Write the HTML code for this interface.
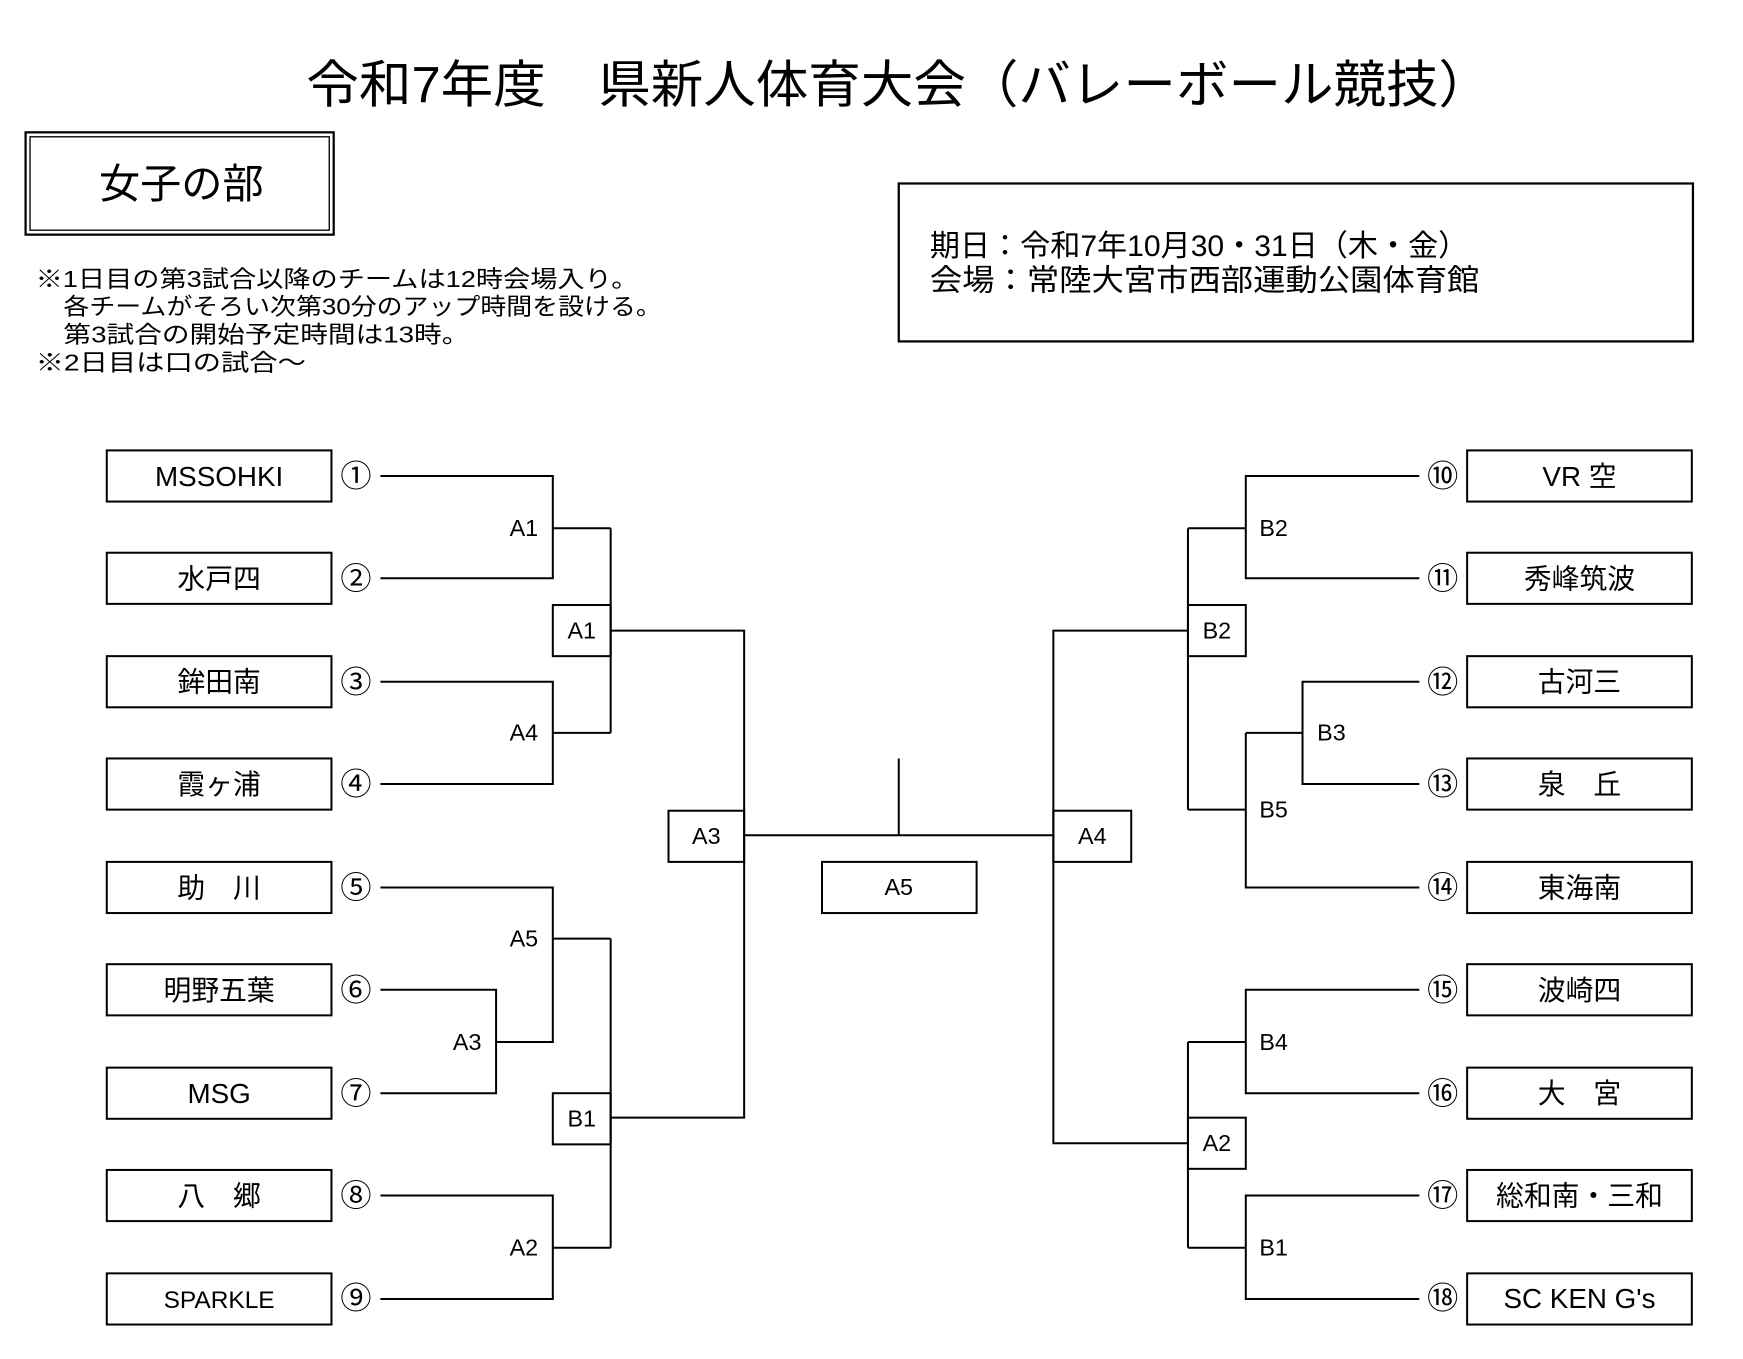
<!DOCTYPE html>
<html><head><meta charset="utf-8"><style>
html,body{margin:0;padding:0;background:#fff;}
svg{display:block;}
text{font-family:"Liberation Sans","Noto Sans CJK JP",sans-serif;fill:#000;}
</style></head><body>
<svg width="1743" height="1359" viewBox="0 0 1567 1222" preserveAspectRatio="none" xmlns="http://www.w3.org/2000/svg">
<rect width="1567" height="1222" fill="#fff"/>
<text x="808" y="92" font-size="46" text-anchor="middle" textLength="1065" lengthAdjust="spacingAndGlyphs">令和7年度　県新人体育大会（バレーボール競技）</text>
<rect x="23" y="119" width="277" height="92" fill="none" stroke="#000" stroke-width="2"/>
<rect x="27" y="123" width="269" height="84" fill="none" stroke="#000" stroke-width="1.2"/>
<text x="163" y="178" font-size="37" text-anchor="middle">女子の部</text>
<g font-size="21">
<text x="32" y="258" textLength="542" lengthAdjust="spacingAndGlyphs">※1日目の第3試合以降のチームは12時会場入り。</text>
<text x="57" y="283" textLength="538" lengthAdjust="spacingAndGlyphs">各チームがそろい次第30分のアップ時間を設ける。</text>
<text x="57" y="308" textLength="365" lengthAdjust="spacingAndGlyphs">第3試合の開始予定時間は13時。</text>
<text x="32" y="333" textLength="243" lengthAdjust="spacingAndGlyphs">※2日目は口の試合～</text>
</g>
<rect x="808" y="165" width="714" height="142" fill="none" stroke="#000" stroke-width="2"/>
<g font-size="27">
<text x="836" y="230" textLength="484" lengthAdjust="spacingAndGlyphs">期日：令和7年10月30・31日（木・金）</text>
<text x="836" y="261" textLength="494" lengthAdjust="spacingAndGlyphs">会場：常陸大宮市西部運動公園体育館</text>
</g>
<g fill="none" stroke="#000" stroke-width="1.8">
<rect x="96" y="405" width="202" height="46"/><rect x="96" y="497" width="202" height="46"/>
<rect x="96" y="590" width="202" height="46"/><rect x="96" y="682" width="202" height="46"/>
<rect x="96" y="775" width="202" height="46"/><rect x="96" y="867" width="202" height="46"/>
<rect x="96" y="960" width="202" height="46"/><rect x="96" y="1052" width="202" height="46"/>
<rect x="96" y="1145" width="202" height="46"/>
<rect x="1319" y="405" width="202" height="46"/><rect x="1319" y="497" width="202" height="46"/>
<rect x="1319" y="590" width="202" height="46"/><rect x="1319" y="682" width="202" height="46"/>
<rect x="1319" y="775" width="202" height="46"/><rect x="1319" y="867" width="202" height="46"/>
<rect x="1319" y="960" width="202" height="46"/><rect x="1319" y="1052" width="202" height="46"/>
<rect x="1319" y="1145" width="202" height="46"/>
<polyline points="342,428 497,428 497,520 342,520"/>
<line x1="497" y1="475" x2="549" y2="475"/>
<polyline points="342,613 497,613 497,705 342,705"/>
<line x1="497" y1="659" x2="549" y2="659"/>
<line x1="549" y1="475" x2="549" y2="659"/>
<rect x="497" y="544" width="52" height="46"/>
<polyline points="549,567 669,567 669,1005 549,1005"/>
<rect x="601" y="729" width="68" height="46"/>
<line x1="669" y1="751" x2="947" y2="751"/>
<line x1="808" y1="682" x2="808" y2="751"/>
<rect x="739" y="775" width="139" height="46"/>
<polyline points="342,798 497,798 497,937 446,937"/>
<polyline points="342,890 446,890 446,983 342,983"/>
<line x1="497" y1="844" x2="549" y2="844"/>
<polyline points="342,1075 497,1075 497,1168 342,1168"/>
<line x1="497" y1="1122" x2="549" y2="1122"/>
<line x1="549" y1="844" x2="549" y2="1122"/>
<rect x="497" y="983" width="52" height="46"/>
<polyline points="1276,428 1120,428 1120,520 1276,520"/>
<line x1="1068" y1="475" x2="1120" y2="475"/>
<polyline points="1276,613 1171,613 1171,705 1276,705"/>
<line x1="1120" y1="659" x2="1171" y2="659"/>
<polyline points="1120,659 1120,798 1276,798"/>
<line x1="1068" y1="728" x2="1120" y2="728"/>
<line x1="1068" y1="475" x2="1068" y2="728"/>
<rect x="1068" y="544" width="52" height="46"/>
<polyline points="1068,567 947,567 947,1028 1068,1028"/>
<rect x="947" y="729" width="70" height="46"/>
<polyline points="1276,890 1120,890 1120,983 1276,983"/>
<line x1="1068" y1="937" x2="1120" y2="937"/>
<polyline points="1276,1075 1120,1075 1120,1168 1276,1168"/>
<line x1="1068" y1="1122" x2="1120" y2="1122"/>
<line x1="1068" y1="937" x2="1068" y2="1122"/>
<rect x="1068" y="1005" width="52" height="46"/>
</g>
<g font-size="25" text-anchor="middle">
<text x="197" y="437">MSSOHKI</text>
<text x="197" y="529">水戸四</text>
<text x="197" y="622">鉾田南</text>
<text x="197" y="714">霞ヶ浦</text>
<text x="197" y="807">助　川</text>
<text x="197" y="899">明野五葉</text>
<text x="197" y="992">MSG</text>
<text x="197" y="1084">八　郷</text>
<text x="197" y="1176" font-size="22">SPARKLE</text>
<text x="1420" y="437">VR 空</text>
<text x="1420" y="529">秀峰筑波</text>
<text x="1420" y="622">古河三</text>
<text x="1420" y="714">泉　丘</text>
<text x="1420" y="807">東海南</text>
<text x="1420" y="899">波崎四</text>
<text x="1420" y="992">大　宮</text>
<text x="1420" y="1084" textLength="150" lengthAdjust="spacingAndGlyphs">総和南・三和</text>
<text x="1420" y="1176">SC KEN G's</text>
</g>
<g font-size="28" text-anchor="middle">
<text x="320" y="438">①</text><text x="320" y="530">②</text><text x="320" y="623">③</text>
<text x="320" y="715">④</text><text x="320" y="808">⑤</text><text x="320" y="900">⑥</text>
<text x="320" y="993">⑦</text><text x="320" y="1085">⑧</text><text x="320" y="1177">⑨</text>
<text x="1297" y="438">⑩</text><text x="1297" y="530">⑪</text><text x="1297" y="623">⑫</text>
<text x="1297" y="715">⑬</text><text x="1297" y="808">⑭</text><text x="1297" y="900">⑮</text>
<text x="1297" y="993">⑯</text><text x="1297" y="1085">⑰</text><text x="1297" y="1177">⑱</text>
</g>
<g font-size="21" text-anchor="middle">
<text x="471" y="482">A1</text><text x="471" y="666">A4</text>
<text x="471" y="851">A5</text><text x="420" y="944">A3</text>
<text x="471" y="1129">A2</text>
<text x="523" y="574">A1</text><text x="523" y="1013">B1</text>
<text x="635" y="759">A3</text><text x="808" y="805">A5</text>
<text x="982" y="759">A4</text>
<text x="1094" y="574">B2</text><text x="1094" y="1035">A2</text>
<text x="1145" y="482">B2</text><text x="1197" y="666">B3</text>
<text x="1145" y="735">B5</text><text x="1145" y="944">B4</text>
<text x="1145" y="1129">B1</text>
</g>
</svg>
</body></html>
